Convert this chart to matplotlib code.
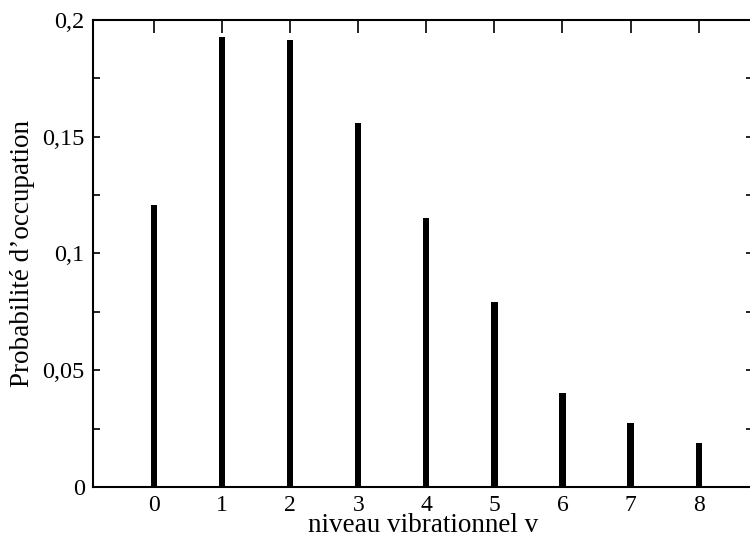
import numpy as np
import matplotlib
matplotlib.use("Agg")
import matplotlib.pyplot as plt
from matplotlib.ticker import MultipleLocator, FuncFormatter

# population des niveaux vibrationnels
niveaux = [0, 1, 2, 3, 4, 5, 6, 7, 8]
proba = [0.1208, 0.1927, 0.1914, 0.1559, 0.1152, 0.0792, 0.0403, 0.0274, 0.0188]

plt.rcParams['font.family'] = ['Liberation Serif', 'DejaVu Serif']

fig = plt.figure(figsize=(7.5, 5.38), dpi=100)
ax = fig.add_axes([93/750, 1 - 487/538, (753 - 93)/750, (487 - 20)/538])

ax.bar(niveaux, proba, width=0.09, color='black')

ax.set_xlim(-0.9, 8.8)
ax.set_ylim(0, 0.2)
ax.xaxis.set_major_locator(MultipleLocator(1))
ax.yaxis.set_major_locator(MultipleLocator(0.05))
ax.yaxis.set_minor_locator(MultipleLocator(0.025))
ax.yaxis.set_major_formatter(FuncFormatter(lambda v, p: ('%g' % round(v, 3)).replace('.', ',')))

ax.tick_params(axis='x', which='major', direction='in', length=9.5, width=1.2,
               top=True, bottom=True, labelsize=17, pad=6)
ax.tick_params(axis='y', which='both', direction='in', length=5, width=1.2,
               left=True, right=True, labelsize=17.5, pad=6)
for s in ax.spines.values():
    s.set_linewidth(1.5)

ax.set_xlabel("niveau vibrationnel v", fontsize=19.5, va='baseline')
ax.xaxis.set_label_coords(0.5, (487 - 532) / 467)
ax.set_ylabel("Probabilité d’occupation", fontsize=19.5)
ax.yaxis.set_label_coords(-0.088, 0.5)

fig.savefig("out.png", dpi=100)
